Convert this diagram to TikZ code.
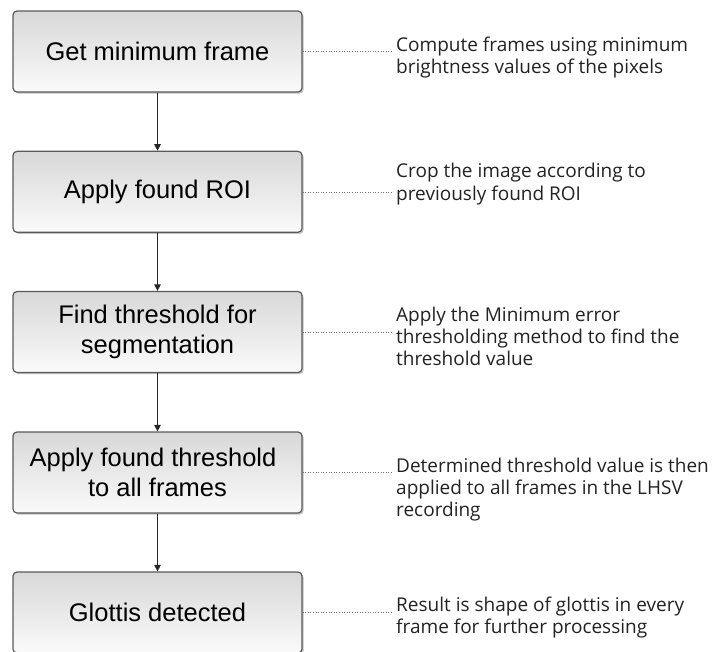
\documentclass[tikz,border=0pt]{standalone}
\usepackage{fontspec}
\setmainfont{Liberation Sans}
\newfontfamily\notefont{Open Sans}
\usetikzlibrary{arrows.meta,shadows}

\definecolor{boxline}{HTML}{5A5A5A}
\definecolor{boxtop}{HTML}{D8D8D8}
\definecolor{boxbottom}{HTML}{FAFAFA}
\definecolor{notetext}{HTML}{222222}

\begin{document}
\begin{tikzpicture}[x=1pt,y=-1pt,
  stepbox/.style={draw=boxline, line width=1.2pt, rounded corners=4pt,
    minimum width=289pt, minimum height=81pt, inner sep=0pt,
    top color=boxtop, bottom color=boxbottom,
    drop shadow={shadow xshift=1.6pt, shadow yshift=-1.6pt, fill=black!35, opacity=0.7},
    align=center, font=\fontsize{25.5}{30}\selectfont},
  % notes are placed by the baseline of their last line
  note/.style={anchor=base west, align=left, inner sep=0pt, text=notetext,
    font=\notefont\fontsize{19}{22.4}\selectfont},
  link/.style={draw=black!55, dotted, line width=0.6pt},
  flow/.style={draw=black!85, line width=0.9pt, -{Triangle[length=6.5pt,width=6.5pt]}}
]
\useasboundingbox (0,0) rectangle (712,651);

% process steps
\node[stepbox] (b1) at (157.5,51.5)  {Get minimum frame};
\node[stepbox] (b2) at (157.5,191.8) {Apply found ROI};
\node[stepbox] (b3) at (157.5,332)   {Find threshold for\\segmentation};
\node[stepbox] (b4) at (157.5,472.5) {Apply found threshold\hspace*{9pt}\\to all frames};
\node[stepbox] (b5) at (157.5,612.5) {Glottis detected};

% flow between steps
\draw[flow] (b1.south) -- (b2.north);
\draw[flow] (b2.south) -- (b3.north);
\draw[flow] (b3.south) -- (b4.north);
\draw[flow] (b4.south) -- (b5.north);

% explanatory notes
\node[note] (n1) at (396,73.4)  {Compute frames using minimum\\brightness values of the pixels};
\node[note] (n2) at (396,200)   {Crop the image according to\\previously found ROI};
\node[note] (n3) at (396,365.8) {Apply the Minimum error\\thresholding method to find the\\threshold value};
\node[note] (n4) at (396,516.8) {Determined threshold value is then\\applied to all frames in the LHSV\\recording};
\node[note] (n5) at (396,633.4) {Result is shape of glottis in every\\frame for further processing};

% dotted leaders from steps to notes
\coordinate (e1) at (393,51.5);
\coordinate (e2) at (393,191.8);
\coordinate (e3) at (393,332);
\coordinate (e4) at (393,472.5);
\coordinate (e5) at (393,612.5);
\draw[link] (b1.east) -- (e1);
\draw[link] (b2.east) -- (e2);
\draw[link] (b3.east) -- (e3);
\draw[link] (b4.east) -- (e4);
\draw[link] (b5.east) -- (e5);
\end{tikzpicture}
\end{document}
